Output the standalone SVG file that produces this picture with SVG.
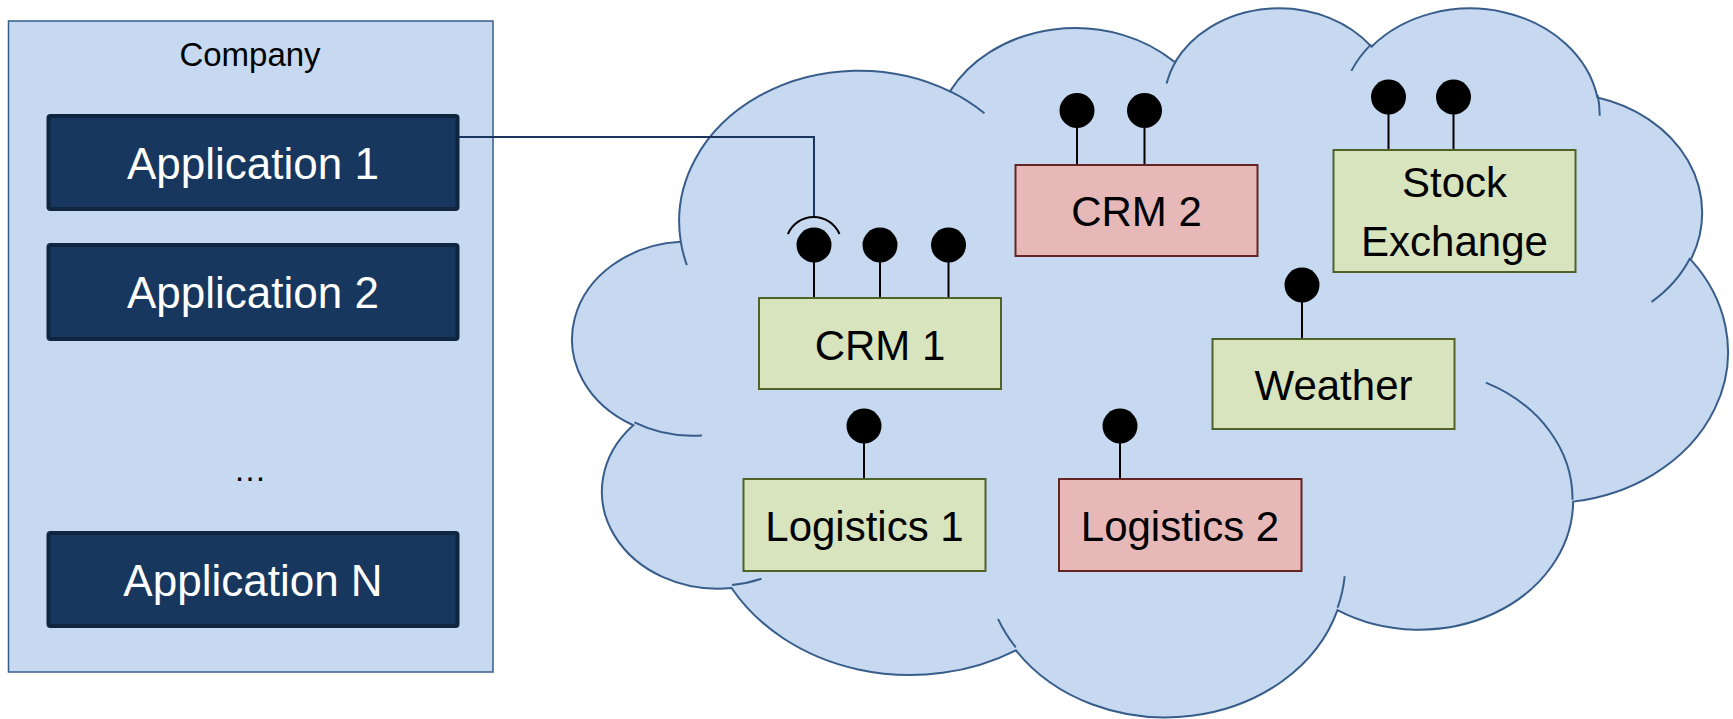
<svg xmlns="http://www.w3.org/2000/svg" width="1733" height="719" viewBox="0 0 1733 719">
<style>
text{font-family:"Liberation Sans",Arial,sans-serif;text-anchor:middle}
.app rect{fill:#17375E;stroke:#10253F;stroke-width:4}
.app text{fill:#FFFFFF;font-size:44px}
.green{fill:#D7E4BD;stroke:#4F6228;stroke-width:2}
.red{fill:#E6B9B8;stroke:#632523;stroke-width:2}
.lbl{fill:#000000;font-size:42px}
.ball{fill:#000000}
.stem{stroke:#000000;stroke-width:2;fill:none}
.cloud{fill:#C6D9F1;stroke:#385D8A;stroke-width:2}
.tail{fill:none;stroke:#385D8A;stroke-width:2}
</style>
<rect width="1733" height="719" fill="#FFFFFF"/>
<g id="company">
<rect x="8.5" y="21" width="484.5" height="651" fill="#C6D9F1" stroke="#385D8A" stroke-width="1.5"/>
<text x="250" y="66" font-size="33" fill="#000000">Company</text>
<text x="250" y="481" font-size="33" fill="#000000">…</text>
</g>
<g id="app1" class="app"><rect x="48.5" y="116" width="409" height="93" rx="2"/><text x="253" y="179">Application 1</text></g>
<g id="app2" class="app"><rect x="48.5" y="245" width="409" height="94" rx="2"/><text x="253" y="308">Application 2</text></g>
<g id="appN" class="app"><rect x="48.5" y="533" width="409" height="93" rx="2"/><text x="253" y="596">Application N</text></g>
<g id="cloud">
<path class="cloud" d="M 680.80 241.80 A 179.85 150.81 0 0 1 949.93 91.36 A 142.03 119.25 0 0 1 1175.00 62.31 A 116.25 97.56 0 0 1 1371.47 46.69 A 129.36 108.22 0 0 1 1597.45 97.49 A 142.03 119.35 0 0 1 1690.69 259.68 A 180.44 151.30 0 0 1 1573.13 501.62 A 154.07 129.10 0 0 1 1337.47 610.09 A 179.83 151.22 0 0 1 1015.87 650.31 A 205.61 173.01 0 0 1 731.55 588.04 A 116.12 97.11 0 0 1 633.23 425.23 A 115.72 97.56 0 0 1 680.80 241.80 Z"/>
<path class="tail" d="M 701.92 435.55 A 115.72 97.56 0 0 1 634.45 422.47 M 761.44 578.68 A 116.12 97.11 0 0 1 731.96 584.93 M 1015.79 647.46 A 179.83 151.22 0 0 1 998.00 618.91 M 1344.68 576.25 A 179.83 151.22 0 0 1 1337.58 607.59 M 1485.89 382.66 A 154.07 129.10 0 0 1 1572.48 499.76 M 1690.14 257.95 A 142.03 119.35 0 0 1 1651.57 301.86 M 1597.61 95.03 A 129.36 108.22 0 0 1 1599.65 115.77 M 1351.36 70.84 A 129.36 108.22 0 0 1 1371.12 44.39 M 1166.61 83.45 A 116.25 97.56 0 0 1 1176.18 60.64 M 949.79 91.19 A 179.85 150.81 0 0 1 984.41 113.31 M 686.84 265.09 A 179.85 150.81 0 0 1 680.80 241.80"/>
</g>
<g id="crm1">
<path class="stem" d="M814 262V298M880 262V298M948.5 262V298"/>
<circle class="ball" cx="814" cy="245" r="17.5"/><circle class="ball" cx="880" cy="245" r="17.5"/><circle class="ball" cx="948.5" cy="245" r="17.5"/>
<rect class="green" x="759" y="298" width="242" height="91"/>
<text class="lbl" x="880" y="360">CRM 1</text>
</g>
<g id="crm2">
<path class="stem" d="M1077 128V165M1144.5 128V165"/>
<circle class="ball" cx="1077" cy="110.5" r="17.5"/><circle class="ball" cx="1144.5" cy="110.5" r="17.5"/>
<rect class="red" x="1015.5" y="165" width="242" height="91"/>
<text class="lbl" x="1136.5" y="226">CRM 2</text>
</g>
<g id="stock">
<path class="stem" d="M1388.5 114V150M1453.5 114V150"/>
<circle class="ball" cx="1388.5" cy="97" r="17.5"/><circle class="ball" cx="1453.5" cy="97" r="17.5"/>
<rect class="green" x="1333.5" y="150" width="242" height="122"/>
<text class="lbl" x="1454.5" y="197">Stock</text>
<text class="lbl" x="1454.5" y="256">Exchange</text>
</g>
<g id="weather">
<path class="stem" d="M1302 302V339"/>
<circle class="ball" cx="1302" cy="285" r="17.5"/>
<rect class="green" x="1212.5" y="339" width="242" height="90"/>
<text class="lbl" x="1333.5" y="400">Weather</text>
</g>
<g id="logistics1">
<path class="stem" d="M864 443V479"/>
<circle class="ball" cx="864" cy="426" r="17.5"/>
<rect class="green" x="743.5" y="479" width="242" height="92"/>
<text class="lbl" x="864.5" y="541">Logistics 1</text>
</g>
<g id="logistics2">
<path class="stem" d="M1120 443V479"/>
<circle class="ball" cx="1120" cy="426" r="17.5"/>
<rect class="red" x="1059" y="479" width="242.5" height="92"/>
<text class="lbl" x="1180" y="541">Logistics 2</text>
</g>
<g id="connectors">
<path d="M459 137H814V217" fill="none" stroke="#1B365D" stroke-width="2"/>
<path d="M787.9 234.06A28 28 0 0 1 839.5 234.06" fill="none" stroke="#000000" stroke-width="2"/>
</g>
</svg>
